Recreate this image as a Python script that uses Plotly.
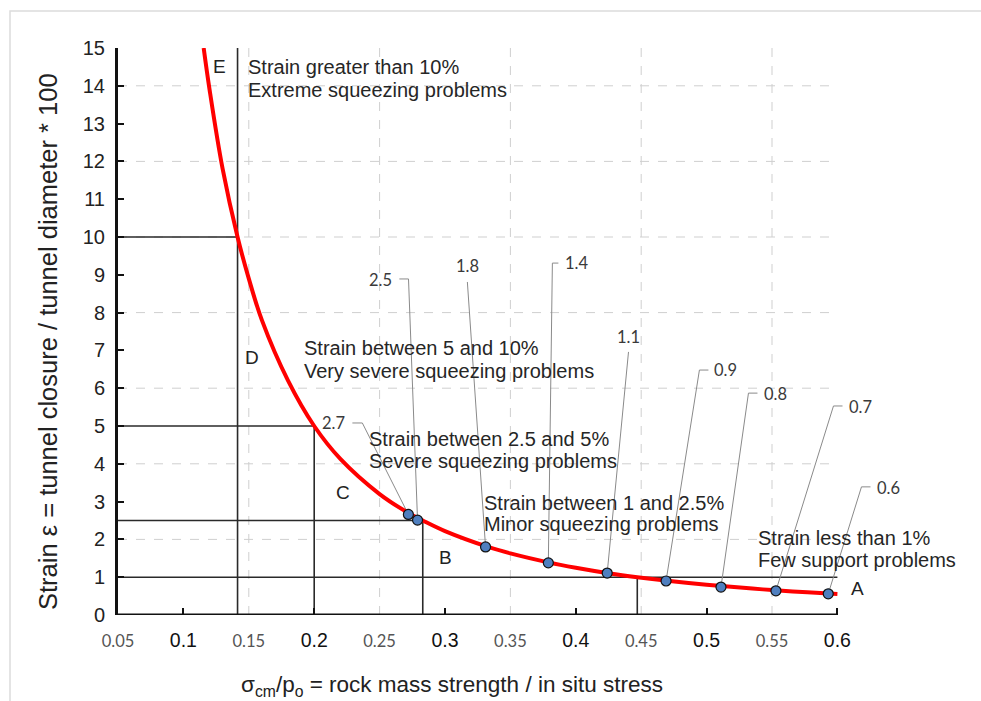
import plotly.graph_objects as go

# ---------------- data ----------------
curve_x = [0.1155, 0.12, 0.13, 0.1414, 0.15, 0.16, 0.18, 0.20, 0.22, 0.25, 0.272, 0.283,
           0.30, 0.333, 0.35, 0.378, 0.40, 0.426, 0.447, 0.47, 0.50, 0.535, 0.55, 0.577, 0.60]
curve_y = [15.0, 13.9, 11.8, 10.0, 8.9, 7.8, 6.2, 5.0, 4.13, 3.2, 2.7, 2.5,
           2.22, 1.8, 1.63, 1.4, 1.25, 1.1, 1.0, 0.905, 0.8, 0.7, 0.66, 0.6, 0.556]

point_labels = ["2.7", "2.5", "1.8", "1.4", "1.1", "0.9", "0.8", "0.7", "0.6"]
point_x = [0.272, 0.279, 0.331, 0.379, 0.424, 0.469, 0.511, 0.553, 0.593]
point_y = [2.66, 2.51, 1.80, 1.38, 1.11, 0.90, 0.74, 0.64, 0.56]

class_strain = [10, 5, 2.5, 1]
class_ratio = [0.1414, 0.2, 0.283, 0.447]

class_letters = ["E", "D", "C", "B", "A"]
class_text = [
    ["Strain greater than 10%", "Extreme squeezing problems"],
    ["Strain between 5 and 10%", "Very severe squeezing problems"],
    ["Strain between 2.5 and 5%", "Severe squeezing problems"],
    ["Strain between 1 and 2.5%", "Minor squeezing problems"],
    ["Strain less than 1%", "Few support problems"],
]

x_tick_vals = [0.05, 0.1, 0.15, 0.2, 0.25, 0.3, 0.35, 0.4, 0.45, 0.5, 0.55, 0.6]
x_tick_text = ["0.05", "0.1", "0.15", "0.2", "0.25", "0.3", "0.35", "0.4", "0.45", "0.5", "0.55", "0.6"]
x_major_ticks = [0.1, 0.2, 0.3, 0.4, 0.5, 0.6]
y_tick_vals = list(range(0, 16))
grid_y = [2, 4, 6, 8, 10, 12, 14]
grid_x = [0.15, 0.25, 0.35, 0.45, 0.55]

# ---------------- layout positions (not data) ----------------
X0, X1, Y0, Y1 = 0.05, 0.6, 0, 15
# leader: elbow x, elbow y, stub end x, text x, text y, text anchor
leaders = [
    (0.2368, 5.08, 0.2292, 0.2252, 5.08, "right"),
    (0.2721, 8.89, 0.2651, 0.2610, 8.87, "right"),
    (0.3171, 8.81, 0.3171, 0.3175, 9.23, "center"),
    (0.3821, 9.31, 0.3867, 0.3905, 9.30, "left"),
    (0.4403, 6.96, 0.4403, 0.4403, 7.35, "center"),
    (0.4945, 6.48, 0.5014, 0.5045, 6.48, "left"),
    (0.5320, 5.87, 0.5389, 0.5420, 5.85, "left"),
    (0.5970, 5.53, 0.6039, 0.6070, 5.51, "left"),
    (0.6184, 3.39, 0.6253, 0.6285, 3.37, "left"),
]
letter_pos = [(0.1275, 14.5), (0.1528, 6.8), (0.2223, 3.25), (0.3003, 1.51), (0.6153, 0.69)]
text_pos = [(0.1475, 14.5, 13.89), (0.1903, 7.06, 6.455), (0.2400, 4.656, 4.074),
            (0.3280, 2.963, 2.407), (0.5374, 2.037, 1.455)]

ARIAL = "Liberation Sans, Arial, sans-serif"
CALIBRI = "Lato, Carlito, sans-serif"

L, R, T, B = 118, 6, 48, 86
W, H = 981, 701
pw = W - L - R
ph = H - T - B
xr_max = X0 + pw / 1308.0

fig = go.Figure()

# leader lines
for i, (ex, ey, sx, tx, ty, anc) in enumerate(leaders):
    fig.add_trace(go.Scatter(x=[point_x[i], ex, sx], y=[point_y[i], ey, ey], mode="lines",
                             line=dict(color="#8a8a8a", width=1), hoverinfo="skip",
                             showlegend=False))

# red curve
fig.add_trace(go.Scatter(x=curve_x, y=curve_y, mode="lines", line=dict(color="#ff0000", width=4, shape="spline"),
                         hoverinfo="skip", showlegend=False))

# points
fig.add_trace(go.Scatter(x=point_x, y=point_y, mode="markers",
                         marker=dict(size=10, color="#4f7fbf", line=dict(color="#111", width=1.2)),
                         showlegend=False))

# dummy trace on overlay axis used for major ticks
fig.add_trace(go.Scatter(x=[None], y=[None], xaxis="x2", showlegend=False, hoverinfo="skip"))

shapes = []
# dashed grid
for gy in grid_y:
    shapes.append(dict(type="line", xref="x", yref="y", x0=X0, x1=X1, y0=gy, y1=gy,
                       line=dict(color="#cfcfcf", width=1, dash="dash"), layer="below"))
for gx in grid_x:
    shapes.append(dict(type="line", xref="x", yref="y", x0=gx, x1=gx, y0=Y0, y1=Y1,
                       line=dict(color="#cfcfcf", width=1, dash="dash"), layer="below"))
# class boundary lines
for i, (s, r) in enumerate(zip(class_strain, class_ratio)):
    hx1 = X1 if i == len(class_strain) - 1 else r
    vy1 = Y1 if i == 0 else s
    shapes.append(dict(type="line", xref="x", yref="y", x0=X0, x1=hx1, y0=s, y1=s,
                       line=dict(color="#2a2a2a", width=1.6), layer="below"))
    shapes.append(dict(type="line", xref="x", yref="y", x0=r, x1=r, y0=Y0, y1=vy1,
                       line=dict(color="#2a2a2a", width=1.6), layer="below"))
# x axis line
shapes.append(dict(type="line", xref="x", yref="y", x0=X0, x1=X1, y0=0, y1=0,
                   line=dict(color="#111", width=3), layer="above"))
# page frame (top/left light border)
shapes.append(dict(type="rect", xref="paper", yref="paper",
                   x0=(10 - L) / pw, x1=1.05, y0=-0.3, y1=(H - B - 11) / ph,
                   line=dict(color="#dcdcdc", width=1.5), layer="below"))

annotations = []
for i, (ex, ey, sx, tx, ty, anc) in enumerate(leaders):
    annotations.append(dict(x=tx, y=ty, xref="x", yref="y", text=point_labels[i], showarrow=False,
                            xanchor=anc, yanchor="middle",
                            font=dict(family=CALIBRI, size=16.5, color="#3a3a3a")))
for (lx, ly), t in zip(letter_pos, class_letters):
    annotations.append(dict(x=lx, y=ly, xref="x", yref="y", text=t, showarrow=False,
                            xanchor="center", yanchor="middle",
                            font=dict(family=ARIAL, size=19, color="#222")))
for (tx, ty1, ty2), lines in zip(text_pos, class_text):
    for ty, line in zip((ty1, ty2), lines):
        annotations.append(dict(x=tx, y=ty, xref="x", yref="y", text=line, showarrow=False,
                                xanchor="left", yanchor="middle",
                                font=dict(family=ARIAL, size=20, color="#262626")))
# axis titles
annotations.append(dict(x=(48 - L) / pw, y=(H - B - 342) / ph, xref="paper", yref="paper",
                        text="Strain \u03b5 = tunnel closure / tunnel diameter * 100", textangle=-90,
                        showarrow=False, xanchor="center", yanchor="middle",
                        font=dict(family=ARIAL, size=25.5, color="#222")))
annotations.append(dict(x=(452 - L) / pw, y=(H - B - 686) / ph, xref="paper", yref="paper",
                        text="\u03c3<sub>cm</sub>/p<sub>o</sub> = rock mass strength / in situ stress",
                        showarrow=False, xanchor="center", yanchor="middle",
                        font=dict(family=ARIAL, size=22.5, color="#222")))

ticktext = []
for v, t in zip(x_tick_vals, x_tick_text):
    if v in x_major_ticks:
        ticktext.append(t)
    else:
        ticktext.append('<span style="font-family:Lato, sans-serif;font-size:16.5px;fill:#555">' + t + '</span>')

fig.update_layout(
    width=W, height=H,
    margin=dict(l=L, r=R, t=T, b=B),
    paper_bgcolor="white", plot_bgcolor="white",
    showlegend=False,
    xaxis=dict(range=[X0, xr_max], showgrid=False, zeroline=False, showline=False,
               tickmode="array", tickvals=x_tick_vals, ticktext=ticktext, ticks="",
               tickfont=dict(family=ARIAL, size=19.5, color="#111"), ticklabelstandoff=11),
    xaxis2=dict(range=[X0, xr_max], overlaying="x", anchor="y", side="bottom",
                showgrid=False, zeroline=False, showline=False, showticklabels=False,
                tickmode="array", tickvals=x_major_ticks, ticks="inside", ticklen=7,
                tickwidth=2, tickcolor="#111"),
    yaxis=dict(range=[Y0, Y1], showgrid=False, zeroline=False, showline=True, linewidth=3,
               linecolor="#111", tickmode="array", tickvals=y_tick_vals, ticks="inside",
               ticklen=6, tickwidth=2, tickcolor="#111",
               tickfont=dict(family=ARIAL, size=20, color="#222"), ticklabelstandoff=6),
    shapes=shapes,
    annotations=annotations,
)

fig.write_html("out.html", config={"displayModeBar": False},
               post_script="document.body.style.margin='0';document.body.style.overflow='hidden';")
